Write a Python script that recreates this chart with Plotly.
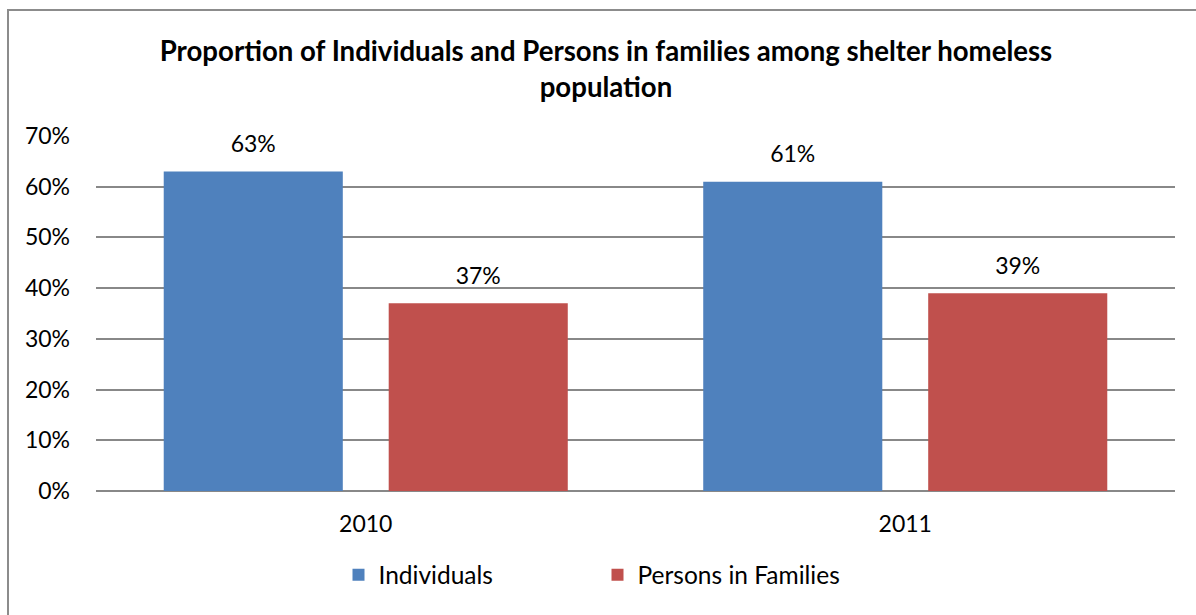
import plotly.graph_objects as go

# Shelter homeless population by household type
years = ["2010", "2011"]
individuals = [0.63, 0.61]
families = [0.37, 0.39]
series_names = ["Individuals", "Persons in Families"]
series_colors = ["#4F81BD", "#C0504D"]
y_ticks = [0, 0.1, 0.2, 0.3, 0.4, 0.5, 0.6, 0.7]

FONT = "Lato"
W, H = 1196, 615
ML, MR, MT, MB = 96, 21, 136, 124
PW, PH = W - ML - MR, H - MT - MB
GAP = 0.166

fig = go.Figure()
for name, vals, color in zip(series_names, [individuals, families], series_colors):
    fig.add_trace(go.Bar(
        x=years, y=vals, name=name, offsetgroup=name,
        marker=dict(color=color, line=dict(width=0)),
    ))

# value labels sit above each bar, grouped the same way as the bars
for name, vals in zip(series_names, [individuals, families]):
    fig.add_trace(go.Scatter(
        x=years, y=vals, mode="markers+text", offsetgroup=name,
        marker=dict(size=20, opacity=0),
        text=[f"{v:.0%}" for v in vals], textposition="top center",
        textfont=dict(family=FONT, size=23, color="#000000"),
        showlegend=False, hoverinfo="skip", cliponaxis=False,
    ))

# chart-area frame
fig.add_shape(
    type="rect", xref="paper", yref="paper",
    x0=(8 - ML) / PW, x1=1.3, y0=-0.6, y1=1 + (MT - 10) / PH,
    line=dict(color="#8C8C8C", width=2), fillcolor="rgba(0,0,0,0)", layer="below",
)

fig.update_layout(
    width=W, height=H,
    margin=dict(l=ML, r=MR, t=MT, b=MB),
    paper_bgcolor="white", plot_bgcolor="white",
    barmode="group", bargap=GAP, bargroupgap=0.204,
    scattermode="group", scattergap=GAP,
    font=dict(family=FONT, size=23, color="#000000"),
    title=dict(
        text="<b>Proportion of Individuals and Persons in families among shelter homeless<br>population</b>",
        x=606 / W, xanchor="center", y=1 - 61 / H, yanchor="middle",
        font=dict(family=FONT, size=27.6, color="#000000"),
    ),
    xaxis=dict(
        showgrid=False, showline=False, ticks="",
        tickfont=dict(family=FONT, size=23), ticklabelstandoff=17,
    ),
    yaxis=dict(
        range=[0, 0.7], tickvals=y_ticks, tickformat=".0%",
        showgrid=True, gridcolor="#888888", gridwidth=2,
        zeroline=True, zerolinecolor="#888888", zerolinewidth=2,
        showline=False, ticks="", ticklabelstandoff=25,
        tickfont=dict(family=FONT, size=23),
    ),
    legend=dict(
        orientation="h", x=0.5 - 38 / PW, xanchor="center", y=-0.236, yanchor="middle",
        font=dict(family=FONT, size=24.5), entrywidth=214, entrywidthmode="pixels",
        itemsizing="constant",
    ),
    showlegend=True,
)

fig.write_html("out.html")
